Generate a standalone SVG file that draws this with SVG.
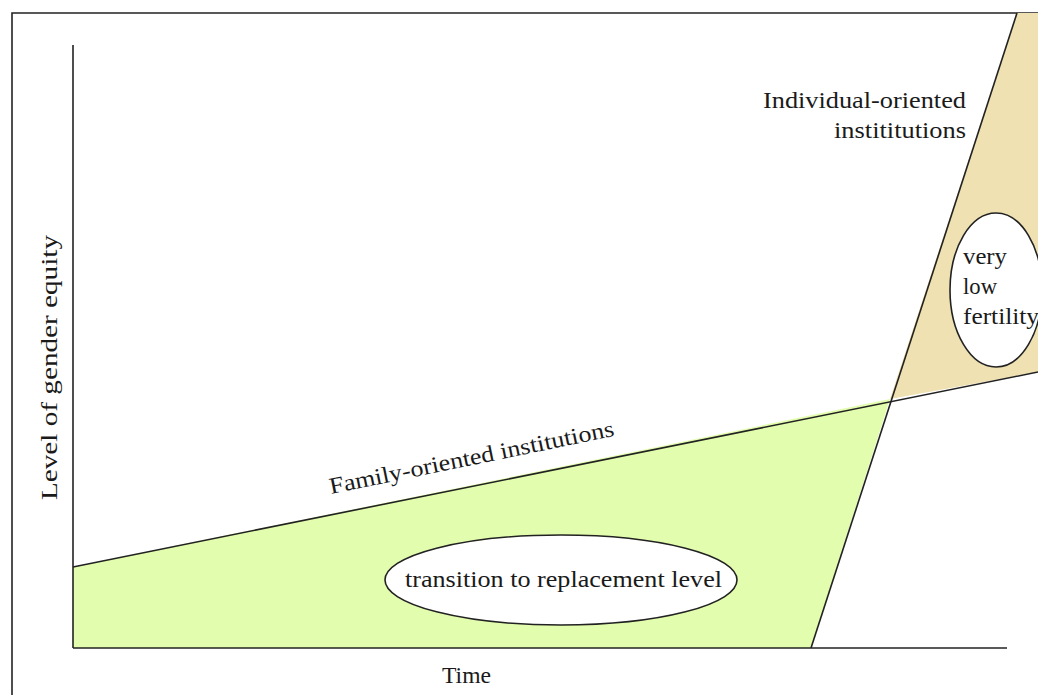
<svg xmlns="http://www.w3.org/2000/svg" width="1038" height="695" viewBox="0 0 1038 695">
<style>
.ln{stroke:#222;stroke-width:1.6;fill:none}
.t{font-family:"Liberation Serif","Times New Roman",serif;font-size:23px;fill:#1a1a1a}
.el{fill:#fff;stroke:#222;stroke-width:1.6}
</style>
<rect width="1038" height="695" fill="#fff"/>
<g id="frame">
<path class="ln" d="M12,695 V13 H1038"/>
</g>
<g id="regions">
<polygon id="family-region" points="73,567 890,399 811,648 73,648" fill="#e3fdae"/>
<polygon id="individual-region" points="890,399 1017,13 1038,13 1038,372" fill="#efe1b1"/>
</g>
<g id="connectors">
<line class="ln" x1="73" y1="45" x2="73" y2="648"/>
<line class="ln" x1="73" y1="648" x2="1007" y2="648"/>
<line class="ln" x1="73" y1="567" x2="1038" y2="372"/>
<line class="ln" x1="811" y1="648" x2="1017" y2="13"/>
</g>
<g id="transition">
<ellipse class="el" cx="561" cy="580" rx="176" ry="45"/>
<text class="t" x="405" y="587" textLength="317" lengthAdjust="spacingAndGlyphs">transition to replacement level</text>
</g>
<g id="very-low">
<ellipse class="el" cx="996" cy="290" rx="46" ry="77"/>
<text class="t" x="963" y="264" textLength="44" lengthAdjust="spacingAndGlyphs">very</text>
<text class="t" x="963" y="294" textLength="34" lengthAdjust="spacingAndGlyphs">low</text>
<text class="t" x="963" y="324" textLength="76" lengthAdjust="spacingAndGlyphs">fertility</text>
</g>
<g id="labels">
<text class="t" x="966" y="108" text-anchor="end" textLength="203" lengthAdjust="spacingAndGlyphs">Individual-oriented</text>
<text class="t" x="966" y="138" text-anchor="end" textLength="132" lengthAdjust="spacingAndGlyphs">instititutions</text>
<text class="t" transform="translate(331,494) rotate(-11.6)" textLength="290" lengthAdjust="spacingAndGlyphs">Family-oriented institutions</text>
<text class="t" x="442" y="683" textLength="49" lengthAdjust="spacingAndGlyphs">Time</text>
<text class="t" transform="translate(57,500) rotate(-90)" textLength="265" lengthAdjust="spacingAndGlyphs">Level of gender equity</text>
</g>
</svg>
